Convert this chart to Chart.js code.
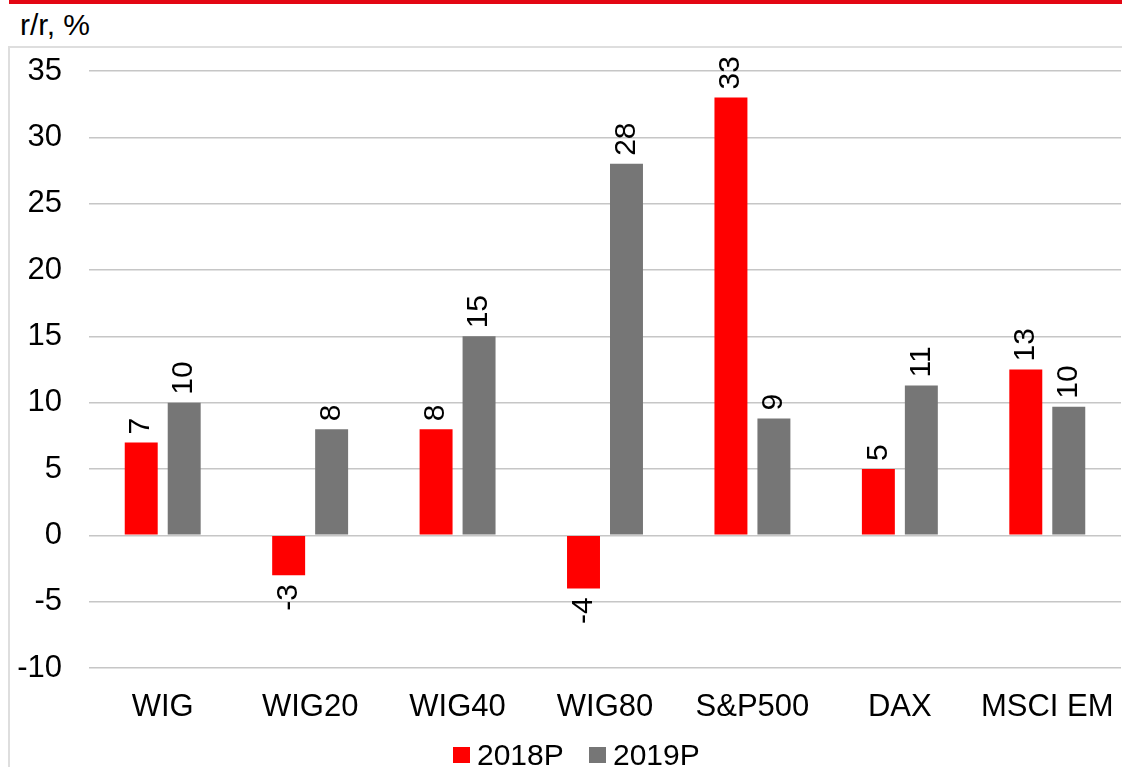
<!DOCTYPE html>
<html>
<head>
<meta charset="utf-8">
<script src="https://cdn.jsdelivr.net/npm/chart.js@4/dist/chart.umd.min.js"></script>
<style>
  body { margin: 0; background: #fff; font-family: "Liberation Sans", Arial, sans-serif; }
  #wrap { position: relative; width: 1122px; height: 767px; overflow: hidden; }
  #topbar { position: absolute; left: 9px; top: 0; right: 0; height: 4px; background: #e30613; }
  #frame { position: absolute; left: 8px; top: 46px; right: 0; bottom: 0;
           border-left: 2px solid #dedede; border-top: 2px solid #dedede; }
  #unit { position: absolute; left: 20px; top: 10px; font-size: 30px; line-height: 30px; color: #000; }
  #chart { position: absolute; left: 0; top: 0; }
  .lg-box { position: absolute; width: 17px; height: 16px; top: 747px; }
  .lg-txt { position: absolute; top: 740px; font-size: 30px; line-height: 30px; color: #000; }
</style>
</head>
<body>
<div id="wrap">
  <div id="topbar"></div>
  <div id="frame"></div>
  <div id="unit">r/r, %</div>
  <canvas id="chart" width="1122" height="767"></canvas>
  <div class="lg-box" style="left:453px;background:#ff0000"></div>
  <div class="lg-txt" style="left:477px">2018P</div>
  <div class="lg-box" style="left:589px;background:#767676"></div>
  <div class="lg-txt" style="left:613px">2019P</div>
</div>
<script>
// indeksy i prognozy zmian r/r
var categories = ["WIG", "WIG20", "WIG40", "WIG80", "S&P500", "DAX", "MSCI EM"];
var values2018 = [7, -3, 8, -4, 33, 5, 12.5];
var values2019 = [10, 8, 15, 28, 8.8, 11.3, 9.7];
var seriesNames = ["2018P", "2019P"];
var yTicks = [-10, -5, 0, 5, 10, 15, 20, 25, 30, 35];

var FONT = "'Liberation Sans', Arial, sans-serif";

// pionowe etykiety wartosci nad / pod slupkami
var barLabels = {
  id: "barLabels",
  afterDatasetsDraw: function(chart) {
    var ctx = chart.ctx;
    ctx.save();
    ctx.font = "30px " + FONT;
    ctx.fillStyle = "#000";
    ctx.textBaseline = "middle";
    chart.data.datasets.forEach(function(ds, i) {
      var meta = chart.getDatasetMeta(i);
      meta.data.forEach(function(bar, j) {
        var v = ds.data[j];
        ctx.save();
        ctx.translate(bar.x, bar.y);
        ctx.rotate(-Math.PI / 2);
        if (v >= 0) {
          ctx.textAlign = "left";
          ctx.fillText(String(Math.round(v)), 8, 0);
        } else {
          ctx.textAlign = "right";
          ctx.fillText(String(Math.round(v)), -9, 0);
        }
        ctx.restore();
      });
    });
    ctx.restore();
  }
};

var dataGraph = {
  type: "bar",
  data: {
    labels: categories,
    datasets: [
      {
        label: seriesNames[0],
        data: values2018,
        backgroundColor: "#ff0000",
        borderWidth: 0,
        categoryPercentage: 0.583,
        barPercentage: 0.767
      },
      {
        label: seriesNames[1],
        data: values2019,
        backgroundColor: "#767676",
        borderWidth: 0,
        categoryPercentage: 0.583,
        barPercentage: 0.767
      }
    ]
  },
  options: {
    responsive: false,
    animation: false,
    layout: {
      padding: { left: 0, right: 1, top: 71, bottom: 39 }
    },
    scales: {
      y: {
        min: -10,
        max: 35,
        afterFit: function(scale) {
          scale.width = 89;
          scale.paddingTop = 0;
          scale.paddingBottom = 0;
        },
        afterBuildTicks: function(scale) {
          scale.ticks = yTicks.map(function(v) { return { value: v }; });
        },
        grid: { color: "#c6c6c6", lineWidth: 1.5, drawTicks: false },
        border: { display: false },
        ticks: {
          color: "#000",
          padding: 27,
          font: { family: FONT, size: 31 }
        }
      },
      x: {
        afterFit: function(scale) {
          scale.height = 60;
          scale.paddingLeft = 0;
          scale.paddingRight = 0;
        },
        grid: { display: false, drawTicks: false },
        border: { display: false },
        ticks: {
          color: "#000",
          padding: 21,
          maxRotation: 0,
          font: { family: FONT, size: 31 }
        }
      }
    },
    plugins: {
      legend: { display: false },
      title: { display: false },
      tooltip: { enabled: false }
    }
  },
  plugins: [barLabels]
};

var myBarChart = new Chart(document.getElementById("chart"), dataGraph);
</script>
</body>
</html>
